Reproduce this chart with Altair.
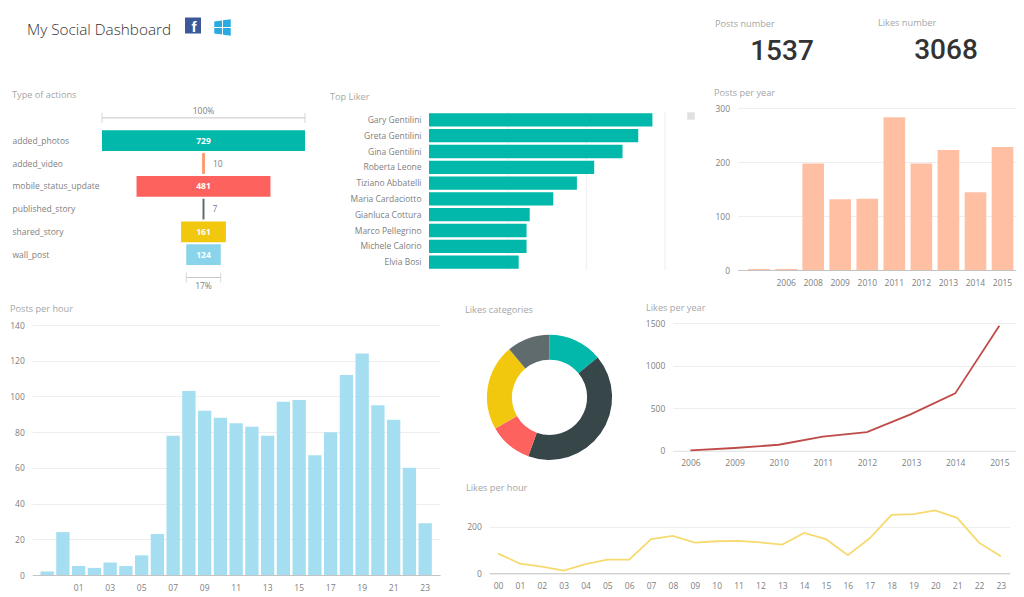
import altair as alt
import pandas as pd

# ---- data ----
action_names = ["added_photos", "added_video", "mobile_status_update", "published_story", "shared_story", "wall_post"]
action_values = [729, 10, 481, 7, 161, 124]
action_colors = ["#01B8AA", "#FE9666", "#FD625E", "#5F6B6D", "#F2C80F", "#8AD4EB"]

liker_names = ["Gary Gentilini", "Greta Gentilini", "Gina Gentilini", "Roberta Leone", "Tiziano Abbatelli",
               "Maria Cardaciotto", "Gianluca Cottura", "Marco Pellegrino", "Michele Calorio", "Elvia Bosi"]
liker_values = [142, 133, 123, 105, 94, 79, 64, 62, 62, 57]
liker_grid = [50, 100, 150]

posts_years = [" ", "2006", "2008", "2009", "2010", "2011", "2012", "2013", "2014", "2015"]
posts_year_values = [2, 2, 197, 131, 132, 283, 197, 222, 144, 228]

posts_hours = [" ", "00", "01", "02", "03", "04", "05", "06", "07", "08", "09", "10", "11", "12",
               "13", "14", "15", "16", "17", "18", "19", "20", "21", "22", "23"]
posts_hour_values = [2, 24, 5, 4, 7, 5, 11, 23, 78, 103, 92, 88, 85, 83, 78, 97, 98, 67, 80, 112, 124, 95, 87, 60, 29]
posts_hour_ticks = ["01", "03", "05", "07", "09", "11", "13", "15", "17", "19", "21", "23"]

like_cats = ["a", "b", "c", "d", "e"]
like_cat_values = [430, 1273, 343, 681, 341]
like_cat_colors = ["#01B8AA", "#374649", "#FD625E", "#F2C80F", "#5F6B6D"]

like_years = ["2006", "2009", "2010", "2011", "2012", "2013", "2014", "2015"]
like_year_values = [3, 32, 70, 165, 218, 430, 675, 1472]

like_hours = ["00", "01", "02", "03", "04", "05", "06", "07", "08", "09", "10", "11",
              "12", "13", "14", "15", "16", "17", "18", "19", "20", "21", "22", "23"]
like_hour_values = [85, 42, 29, 12, 40, 59, 59, 147, 161, 132, 138, 140,
                    133, 124, 174, 147, 78, 151, 252, 255, 271, 239, 132, 73]

# ---- layout ----
W, H = 1008, 589
M = 8
FONT = "Open Sans"
GRID = "#eeeeee"
LABEL = "#808080"
TITLE = "#a6a6a6"
AXSZ = 8.5


def sx(v):
    return v - M


def xaxis(y, values=None, domain="#c4c4c4", pad=8):
    kw = {} if values is None else {"values": values}
    return alt.Axis(orient="bottom", offset=sx(y) - H, title=None, ticks=False, grid=False,
                    domain=domain is not None, domainColor=domain or "#fff", labelPadding=pad, labelFont=FONT,
                    labelFontSize=AXSZ, labelColor=LABEL, labelAngle=0, labelOverlap=False, labelFlush=False, **kw)


def yaxis(x, values=None, grid=True, pad=8, align=None, fmt=None):
    kw = {} if values is None else {"values": values}
    if align:
        kw["labelAlign"] = align
    if fmt:
        kw["format"] = fmt
    return alt.Axis(orient="left", offset=-sx(x), title=None, ticks=False, grid=grid, gridColor=GRID,
                    domain=False, labelPadding=pad, labelFont=FONT, labelFontSize=AXSZ, labelColor=LABEL,
                    labelOverlap=False, **kw)


def text(t, x, y, size=9.2, color=TITLE, font=FONT, weight=400, align="left"):
    return alt.Chart(pd.DataFrame({"t": [t]})).mark_text(
        font=font, fontSize=size, color=color, fontWeight=weight, align=align, baseline="middle"
    ).encode(x=alt.value(sx(x)), y=alt.value(sx(y)), text="t:N")


# ---- header ----
BIG = "Roboto"
header = [
    text("My Social Dashboard", 27, 30, size=15.3, color="#333333", weight=300),
    text("Posts number", 715, 24), text("Likes number", 878, 22.5),
    text("1537", 782, 52, size=28, color="#333333", font=BIG, weight=500, align="center"),
    text("3068", 946, 50.5, size=28, color="#333333", font=BIG, weight=500, align="center"),
    text("Type of actions", 12, 94.5), text("Top Liker", 330, 97), text("Posts per year", 714, 92.5),
    text("Posts per hour", 10, 309), text("Likes categories", 465, 310), text("Likes per year", 646, 308),
    text("Likes per hour", 466, 488),
]

one = pd.DataFrame({"k": [0]})
fb = alt.Chart(one).mark_square(size=256, color="#3B5998", opacity=1).encode(x=alt.value(sx(193)), y=alt.value(sx(25.5)))
fb_f = text("f", 194, 27, size=15, color="#ffffff", font="Liberation Sans", weight=700, align="center")
WIN = ("M-1,-0.72 L-0.06,-0.86 L-0.06,-0.06 L-1,-0.06 Z M0.06,-0.88 L1,-1 L1,-0.06 L0.06,-0.06 Z "
       "M-1,0.06 L-0.06,0.06 L-0.06,0.86 L-1,0.72 Z M0.06,0.06 L1,0.06 L1,1 L0.06,0.88 Z")
win = alt.Chart(one).mark_point(shape=WIN, size=272, filled=True, color="#29ABE2", opacity=1).encode(
    x=alt.value(sx(222.5)), y=alt.value(sx(27.5)))

# ---- funnel ----
fun_top, fun_step = 106.5, 22.8
fun_domain = ["top"] + action_names + ["bottom"]
fy = alt.Scale(domain=fun_domain, range=[sx(fun_top), sx(fun_top + 8 * fun_step)], paddingInner=0.09, paddingOuter=0.045)
fx = alt.Scale(domain=[-364.5, 364.5], range=[sx(102), sx(305)], nice=False, zero=False)
fun_df = pd.DataFrame({"name": action_names, "v": action_values})
fun_df["l"] = -fun_df.v / 2
fun_df["r"] = fun_df.v / 2
fun_df["c"] = 0
big = fun_df[fun_df.v > 50]
small = fun_df[fun_df.v <= 50]
brk = pd.DataFrame({"row": ["top", "bottom"], "l": [-729 / 2, -124 / 2], "r": [729 / 2, 124 / 2],
                    "pct": ["100%", "17%"], "c": [0, 0]})
brk_ends = pd.concat([brk[["row", "l"]].rename(columns={"l": "x"}), brk[["row", "r"]].rename(columns={"r": "x"})])
fun_bars = alt.Chart(fun_df).mark_bar().encode(
    x=alt.X("l:Q", scale=fx, axis=None), x2="r:Q",
    y=alt.Y("name:N", scale=fy, sort=None, axis=yaxis(102, values=action_names, grid=False, pad=90, align="left")),
    color=alt.Color("name:N", scale=alt.Scale(domain=action_names, range=action_colors), legend=None),
)
fun_big = alt.Chart(big).mark_text(font=FONT, fontSize=8.5, fontWeight=700, color="#ffffff").encode(
    x=alt.X("c:Q", scale=fx, axis=None), y=alt.Y("name:N", scale=fy, sort=None), text="v:Q")
fun_small = alt.Chart(small).mark_text(font=FONT, fontSize=8.5, fontWeight=400, color=LABEL, align="left", dx=8).encode(
    x=alt.X("r:Q", scale=fx, axis=None), y=alt.Y("name:N", scale=fy, sort=None), text="v:Q")
brk_rule = alt.Chart(brk).mark_rule(color="#c8c8c8", strokeWidth=1).encode(
    x=alt.X("l:Q", scale=fx, axis=None), x2="r:Q", y=alt.Y("row:N", scale=fy, sort=None))
brk_tick = alt.Chart(brk_ends).mark_tick(color="#c8c8c8", thickness=1, size=10, orient="vertical").encode(
    x=alt.X("x:Q", scale=fx, axis=None), y=alt.Y("row:N", scale=fy, sort=None))
brk_top = alt.Chart(brk[brk.row == "top"]).mark_text(font=FONT, fontSize=8.5, color=LABEL, dy=-7).encode(
    x=alt.X("c:Q", scale=fx, axis=None), y=alt.Y("row:N", scale=fy, sort=None), text="pct:N")
brk_bot = alt.Chart(brk[brk.row == "bottom"]).mark_text(font=FONT, fontSize=8.5, color=LABEL, dy=8).encode(
    x=alt.X("c:Q", scale=fx, axis=None), y=alt.Y("row:N", scale=fy, sort=None), text="pct:N")
funnel = alt.layer(fun_bars, fun_big, fun_small, brk_rule, brk_tick, brk_top, brk_bot)

# ---- top liker ----
lik = pd.DataFrame({"name": liker_names, "v": liker_values})
lx = alt.Scale(domain=[0, 150], range=[sx(429), sx(665)], nice=False)
liker_rules = alt.Chart(pd.DataFrame({"g": liker_grid})).mark_rule(color=GRID).encode(
    x=alt.X("g:Q", scale=lx, axis=None), y=alt.value(sx(112)), y2=alt.value(sx(270)))
liker_bars = alt.Chart(lik).mark_bar(color="#01B8AA").encode(
    x=alt.X("v:Q", scale=lx, axis=xaxis(270, values=[0, 50, 100, 150], domain=None, pad=5)),
    y=alt.Y("name:N", sort=None, scale=alt.Scale(domain=liker_names, range=[sx(112), sx(270)], paddingInner=0.16, paddingOuter=0.08),
            axis=yaxis(429, grid=False)),
)
liker = alt.layer(liker_rules, liker_bars)
legend_chip = alt.Chart(one).mark_square(size=56, color="#e0e0e0", opacity=1).encode(x=alt.value(sx(691)), y=alt.value(sx(116)))

# ---- posts per year ----
py = pd.DataFrame({"k": posts_years, "v": posts_year_values})
posts_year = alt.Chart(py).mark_bar(color="#FEBFA3").encode(
    x=alt.X("k:N", sort=None, scale=alt.Scale(domain=posts_years, range=[sx(737.6), sx(1024)], paddingInner=0.2, paddingOuter=0.395),
            axis=xaxis(270, values=posts_years[1:])),
    y=alt.Y("v:Q", scale=alt.Scale(domain=[0, 300], range=[sx(270), sx(108)], nice=False),
            axis=yaxis(737.6, values=[0, 100, 200, 300])),
)

# ---- posts per hour ----
ph = pd.DataFrame({"k": posts_hours, "v": posts_hour_values})
posts_hour = alt.Chart(ph).mark_bar(color="#A4DEF0").encode(
    x=alt.X("k:N", sort=None, scale=alt.Scale(domain=posts_hours, range=[sx(32.3), sx(440)], paddingInner=0.155, paddingOuter=0.52),
            axis=xaxis(575, values=posts_hour_ticks)),
    y=alt.Y("v:Q", scale=alt.Scale(domain=[0, 140], range=[sx(575), sx(325)], nice=False),
            axis=yaxis(32.3, values=[0, 20, 40, 60, 80, 100, 120, 140])),
)

# ---- donut ----
dn = pd.DataFrame({"k": like_cats, "v": like_cat_values, "i": list(range(len(like_cats)))})
donut = alt.Chart(dn).mark_arc(outerRadius=62.6, innerRadius=37.6).encode(
    theta=alt.Theta("v:Q", stack=True, scale=alt.Scale(range=[0, 6.283185307])),
    order=alt.Order("i:Q"),
    color=alt.Color("k:N", scale=alt.Scale(domain=like_cats, range=like_cat_colors), legend=None),
    x=alt.value(sx(549.5)), y=alt.value(sx(397.3)),
)

# ---- likes per year ----
ly = pd.DataFrame({"k": like_years, "v": like_year_values})
like_year = alt.Chart(ly).mark_line(color="#BE4B48", strokeWidth=1.8).encode(
    x=alt.X("k:N", sort=None, scale=alt.Scale(type="point", domain=like_years, range=[sx(672.8), sx(1017)], padding=0.4),
            axis=xaxis(450.7, domain="#e4e4e4")),
    y=alt.Y("v:Q", scale=alt.Scale(domain=[0, 1500], range=[sx(450.7), sx(323.3)], nice=False),
            axis=yaxis(672.8, values=[0, 500, 1000, 1500], fmt="d")),
)

# ---- likes per hour ----
lh = pd.DataFrame({"k": like_hours, "v": like_hour_values})
like_hour = alt.Chart(lh).mark_line(color="#F6DA6F", strokeWidth=1.8).encode(
    x=alt.X("k:N", sort=None, scale=alt.Scale(type="point", domain=like_hours, range=[sx(489.3), sx(1009.6)], padding=0.4),
            axis=xaxis(573.3)),
    y=alt.Y("v:Q", scale=alt.Scale(domain=[0, 290], range=[sx(573.3), sx(506)], nice=False),
            axis=yaxis(489.3, values=[0, 200])),
)

chart = alt.layer(
    funnel, liker, posts_year, posts_hour, like_year, like_hour, donut,
    legend_chip, fb, fb_f, win, *header,
).resolve_scale(x="independent", y="independent", color="independent", theta="independent").properties(
    width=W, height=H, autosize="none", padding=0, background="#ffffff",
).configure_view(stroke=None)

chart.save("out.html", embed_options={"renderer": "svg", "actions": False})
